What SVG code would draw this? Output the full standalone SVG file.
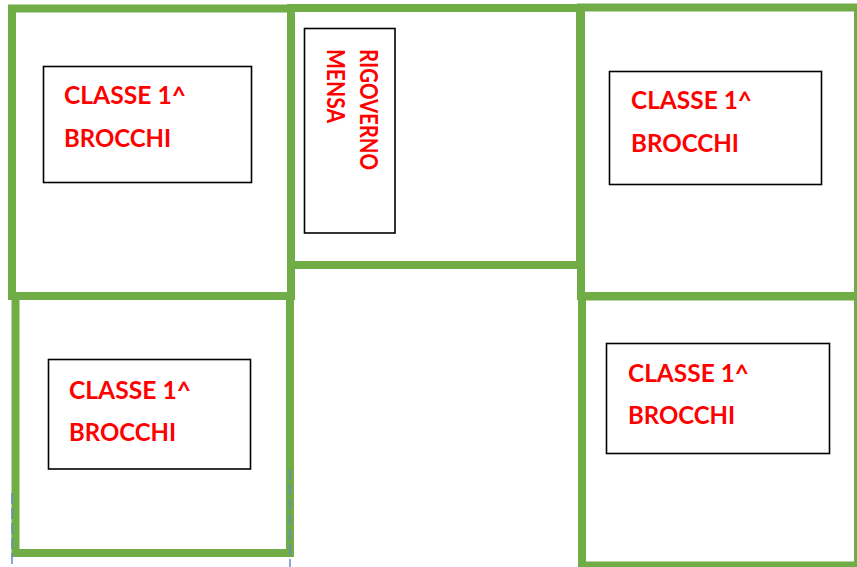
<svg xmlns="http://www.w3.org/2000/svg" width="857" height="567" viewBox="0 0 857 567">
<style>
.room{fill:none;stroke:#70ad47;stroke-width:8}
.box{fill:#ffffff;stroke:#000000;stroke-width:1.6}
.lbl{font-family:Lato,"Open Sans","Liberation Sans",sans-serif;font-weight:bold;font-size:25px;fill:#ff0000}
.guide{stroke:#6688cc;stroke-width:1.5;stroke-dasharray:11 4;fill:none}
</style>
<rect width="857" height="567" fill="#ffffff"/>
<g id="room-top-left">
<rect class="room" x="12" y="8.5" width="279" height="287.5"/>
<rect class="box" x="43.5" y="66.5" width="208" height="116"/>
<text class="lbl" x="64" y="104" textLength="122" lengthAdjust="spacingAndGlyphs">CLASSE 1^</text>
<text class="lbl" x="64" y="147" textLength="107" lengthAdjust="spacingAndGlyphs">BROCCHI</text>
</g>
<g id="room-top-middle">
<rect class="room" x="291" y="8" width="289" height="257"/>
<rect class="box" x="304.5" y="28.5" width="90.5" height="204.5"/>
<text class="lbl" transform="translate(360,49) rotate(90)" textLength="121" lengthAdjust="spacingAndGlyphs">RIGOVERNO</text>
<text class="lbl" transform="translate(327,49) rotate(90)" textLength="74" lengthAdjust="spacingAndGlyphs">MENSA</text>
</g>
<g id="room-top-right">
<rect class="room" x="581" y="7.5" width="277" height="288.5"/>
<rect class="box" x="609.5" y="71.5" width="212" height="113"/>
<text class="lbl" x="631" y="109" textLength="121" lengthAdjust="spacingAndGlyphs">CLASSE 1^</text>
<text class="lbl" x="631" y="152" textLength="108" lengthAdjust="spacingAndGlyphs">BROCCHI</text>
</g>
<g id="room-bottom-left">
<rect class="room" x="15.5" y="296" width="274.5" height="257"/>
<rect class="box" x="48.5" y="359.5" width="202" height="109.5"/>
<text class="lbl" x="69" y="399" textLength="122" lengthAdjust="spacingAndGlyphs">CLASSE 1^</text>
<text class="lbl" x="69" y="441" textLength="107" lengthAdjust="spacingAndGlyphs">BROCCHI</text>
</g>
<g id="room-bottom-right">
<rect class="room" x="582" y="296.5" width="276" height="269"/>
<rect class="box" x="606.5" y="343.5" width="223" height="110"/>
<text class="lbl" x="628" y="382" textLength="121" lengthAdjust="spacingAndGlyphs">CLASSE 1^</text>
<text class="lbl" x="628" y="424" textLength="107" lengthAdjust="spacingAndGlyphs">BROCCHI</text>
</g>
<g id="connectors">
<line class="guide" x1="12" y1="493" x2="12" y2="567"/>
<line class="guide" x1="290" y1="469" x2="290" y2="567"/>
</g>
</svg>
